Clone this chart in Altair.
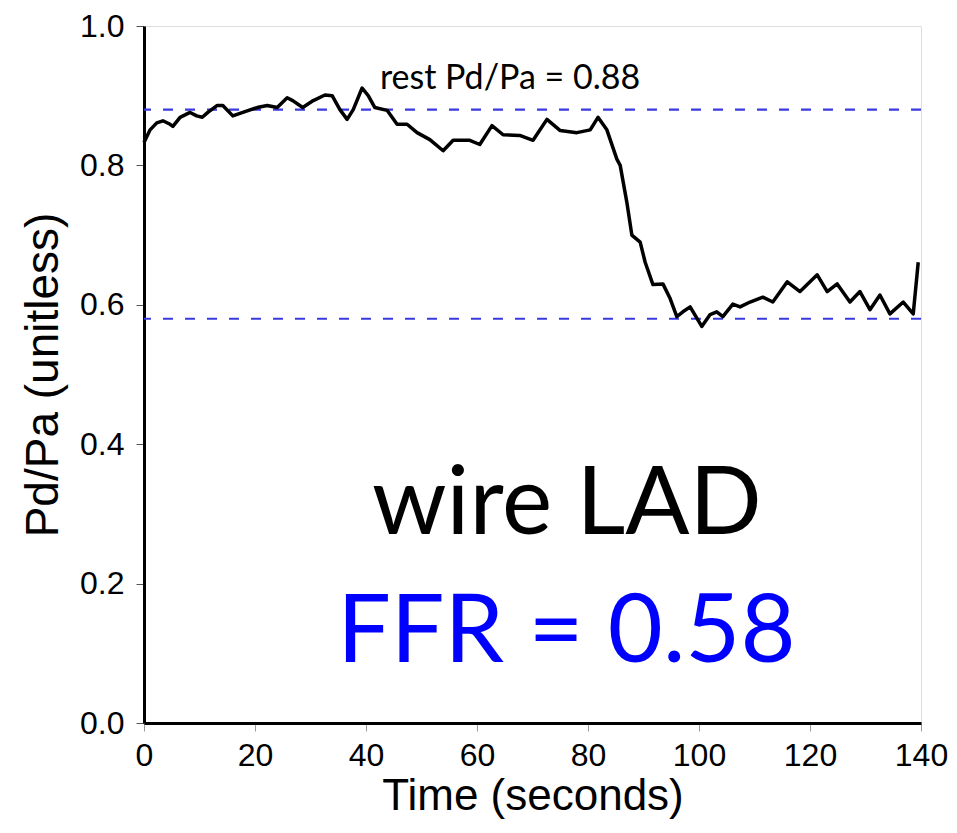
import altair as alt
import pandas as pd

time_s = [0.0, 1.1, 2.3, 3.4, 4.7, 5.2, 6.5, 8.3, 9.5, 10.5, 11.5, 13.2, 14.2, 16.0, 17.8,
          20.4, 22.2, 24.0, 25.8, 26.8, 28.6, 30.5, 32.6, 33.9, 35.3, 36.6, 37.7, 39.3, 40.4,
          41.6, 43.8, 45.6, 47.4, 49.2, 51.5,
          53.9, 55.7, 58.7, 60.5, 62.7,
          64.7, 67.7, 70.1, 72.6, 75.0, 78.0, 80.4, 81.8, 83.4, 85.2, 85.8, 87.0, 87.9, 89.4,
          90.3, 91.7, 93.5, 94.8, 96.0, 97.1, 98.4, 100.5, 102.0, 103.2, 104.3, 106.1, 107.4,
          109.2, 111.5, 113.3, 115.9, 118.2, 121.3, 123.1, 124.9, 127.2, 129.0, 130.8, 132.6,
          134.4, 136.8, 138.6, 139.5]
pd_pa = [0.833, 0.851, 0.861, 0.864, 0.859, 0.856, 0.869, 0.876, 0.871, 0.869, 0.876, 0.886,
         0.886, 0.871, 0.876, 0.883, 0.886, 0.883, 0.897, 0.893, 0.883, 0.893, 0.901, 0.900,
         0.880, 0.866, 0.880, 0.911, 0.900, 0.883, 0.879, 0.859, 0.859, 0.847, 0.837,
         0.821, 0.836, 0.836, 0.830, 0.857,
         0.844, 0.843, 0.836, 0.866, 0.850, 0.847, 0.851,
         0.869, 0.851, 0.809, 0.800, 0.747, 0.700, 0.690, 0.661, 0.629, 0.630, 0.609, 0.583,
         0.590, 0.597, 0.569, 0.586, 0.590, 0.583, 0.601, 0.597, 0.604, 0.611, 0.604, 0.633,
         0.619, 0.643, 0.619, 0.630, 0.604, 0.619, 0.593, 0.614, 0.587, 0.604, 0.587, 0.661]

ref_levels = [0.88, 0.58]

ann_text = ["rest Pd/Pa = 0.88", "wire LAD", "FFR = 0.58"]
ann_t = [42.5, 76.2, 76.1]
ann_v = [0.909, 0.271, 0.087]

x_ticks = [0, 20, 40, 60, 80, 100, 120, 140]
y_ticks = [0.0, 0.2, 0.4, 0.6, 0.8, 1.0]

trace = pd.DataFrame({"t": time_s, "v": pd_pa})
refs = pd.DataFrame({"v": ref_levels})

xscale = alt.Scale(domain=[0, 140], nice=False)
yscale = alt.Scale(domain=[0, 1], nice=False)

xaxis = alt.Axis(values=x_ticks, title="Time (seconds)", grid=False, domainWidth=3,
                 domainColor="black", tickColor="#999", tickSize=8, labelPadding=9,
                 labelFontSize=32, titleFontSize=44, titleFont="Liberation Sans",
                 labelFont="Liberation Sans", titleFontWeight="normal", titlePadding=3,
                 labelColor="black", titleColor="black", labelFlush=False)
yaxis = alt.Axis(values=y_ticks, format=".1f", title="Pd/Pa (unitless)", grid=False,
                 domainWidth=3, domainColor="black", tickColor="#555", tickSize=8,
                 labelPadding=12, labelFontSize=32, titleFontSize=46,
                 titleFont="Liberation Sans", labelFont="Liberation Sans",
                 titleFontWeight="normal", titlePadding=12, labelColor="black",
                 titleColor="black", labelFlush=False)

rules = alt.Chart(refs).mark_rule(color="#3a3ae0", strokeWidth=2.2, strokeDash=[10, 12]).encode(
    y=alt.Y("v:Q", scale=yscale, axis=yaxis)
)

line = alt.Chart(trace).mark_line(color="black", strokeWidth=3.5, strokeJoin="round").encode(
    x=alt.X("t:Q", scale=xscale, axis=xaxis),
    y=alt.Y("v:Q", scale=yscale, axis=yaxis),
)

ann1 = alt.Chart(pd.DataFrame({"t": [ann_t[0]], "v": [ann_v[0]], "s": [ann_text[0]]})).mark_text(
    align="left", baseline="alphabetic", fontSize=34, font="Lato", color="black"
).encode(x=alt.X("t:Q", scale=xscale), y=alt.Y("v:Q", scale=yscale), text="s:N")

ann2 = alt.Chart(pd.DataFrame({"t": [ann_t[1]], "v": [ann_v[1]], "s": [ann_text[1]]})).mark_text(
    align="center", baseline="alphabetic", fontSize=95, font="Lato", color="black"
).encode(x=alt.X("t:Q", scale=xscale), y=alt.Y("v:Q", scale=yscale), text="s:N")

ann3 = alt.Chart(pd.DataFrame({"t": [ann_t[2]], "v": [ann_v[2]], "s": [ann_text[2]]})).mark_text(
    align="center", baseline="alphabetic", fontSize=95, font="Lato", color="#0000ff"
).encode(x=alt.X("t:Q", scale=xscale), y=alt.Y("v:Q", scale=yscale), text="s:N")

chart = alt.layer(rules, line, ann1, ann2, ann3).properties(
    width=777, height=697,
    autosize=alt.AutoSizeParams(type="none"),
    padding={"left": 136, "top": 18, "right": 28, "bottom": 102},
).configure_view(stroke=None).configure(background="white")

chart.save("out.html", embed_options={"renderer": "svg", "actions": False})
